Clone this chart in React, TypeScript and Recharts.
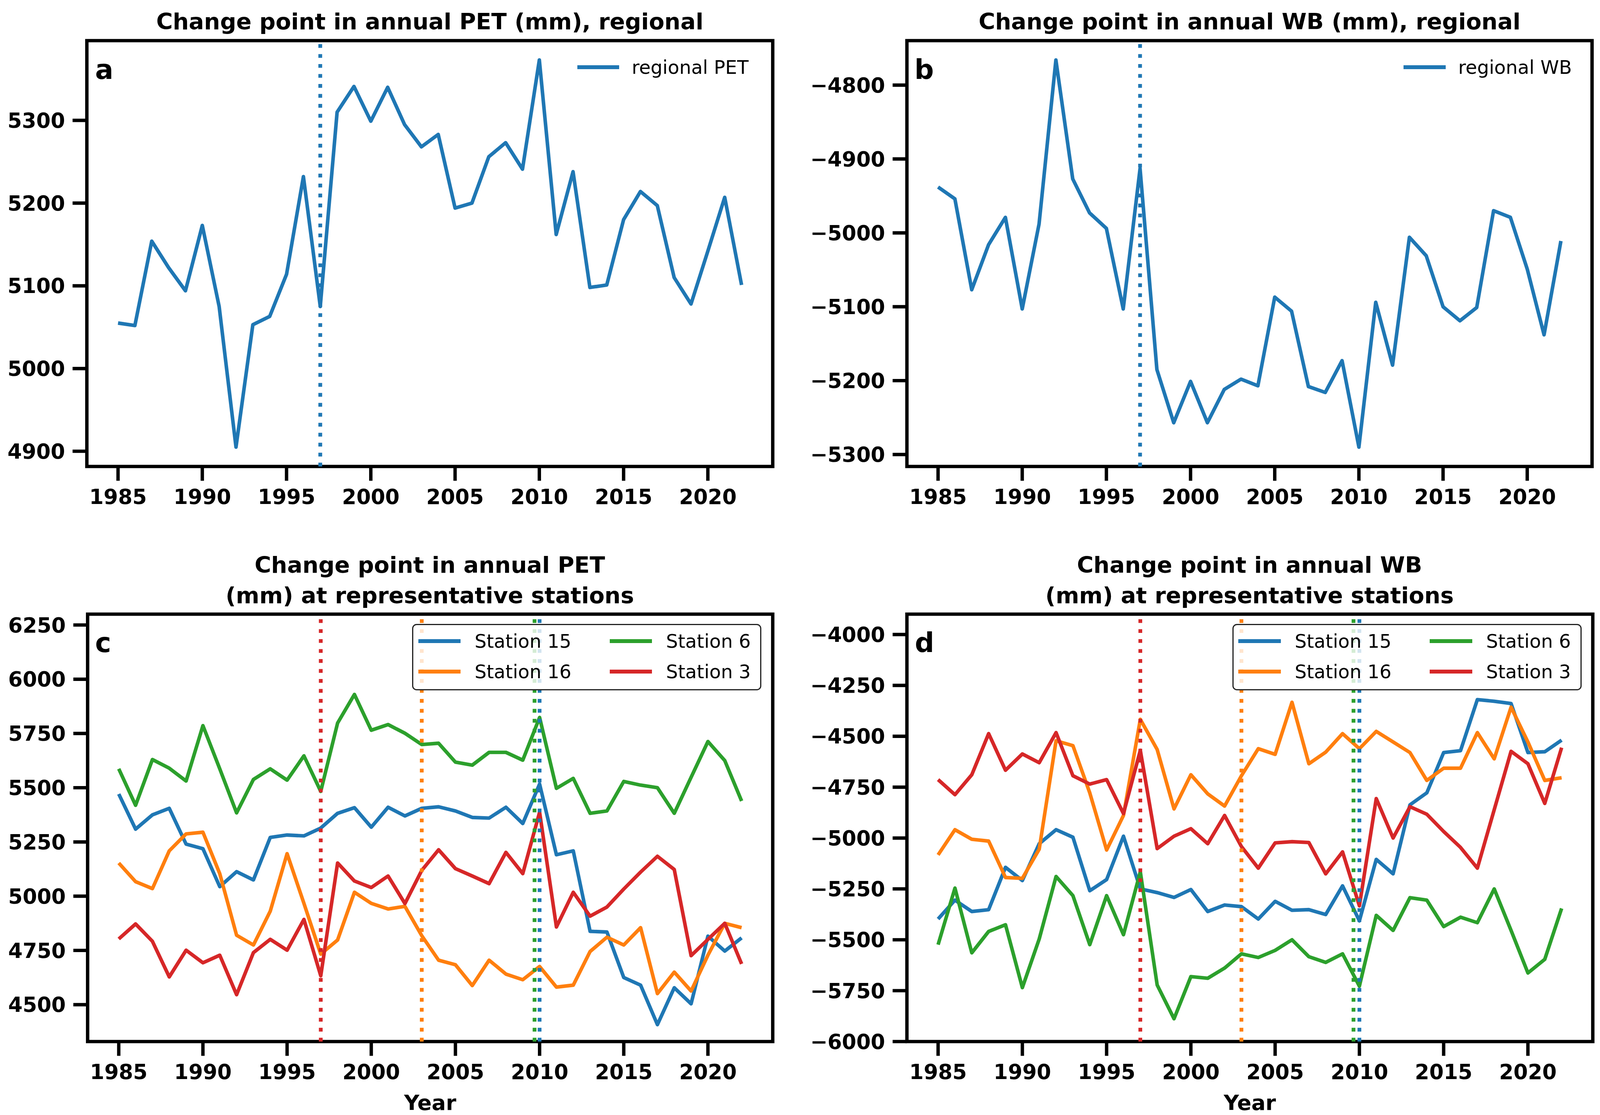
import React from "react";
import { LineChart, Line, XAxis, YAxis, ReferenceLine, ReferenceArea, Legend, Label } from "recharts";

const years = [
  1985, 1986, 1987, 1988, 1989, 1990, 1991, 1992, 1993, 1994,
  1995, 1996, 1997, 1998, 1999, 2000, 2001, 2002, 2003, 2004,
  2005, 2006, 2007, 2008, 2009, 2010, 2011, 2012, 2013, 2014,
  2015, 2016, 2017, 2018, 2019, 2020, 2021, 2022,
];
const xTicks = [1985, 1990, 1995, 2000, 2005, 2010, 2015, 2020];

// regional series
const petRegional = [
  5055, 5052, 5154, 5122, 5094, 5173, 5075, 4905, 5053, 5063,
  5114, 5232, 5075, 5310, 5341, 5299, 5340, 5295, 5268, 5283,
  5194, 5200, 5256, 5273, 5241, 5373, 5162, 5238, 5098, 5101,
  5180, 5214, 5197, 5110, 5078, 5142, 5207, 5101,
];
const wbRegional = [
  -4938, -4954, -5077, -5016, -4979, -5103, -4988, -4766, -4927, -4973,
  -4994, -5103, -4913, -5185, -5257, -5201, -5257, -5212, -5198, -5207,
  -5087, -5106, -5208, -5216, -5173, -5290, -5094, -5179, -5006, -5031,
  -5100, -5119, -5101, -4970, -4979, -5049, -5138, -5011,
];

// PET at stations
const petS15 = [
  5471, 5309, 5375, 5405, 5240, 5219, 5044, 5113, 5075, 5271,
  5282, 5278, 5314, 5382, 5408, 5318, 5410, 5370, 5405, 5412,
  5393, 5363, 5360, 5410, 5335, 5517, 5191, 5209, 4838, 4835,
  4625, 4590, 4408, 4578, 4504, 4816, 4747, 4808,
];
const petS16 = [
  5153, 5067, 5035, 5209, 5287, 5295, 5104, 4820, 4775, 4931,
  5196, 4967, 4733, 4798, 5018, 4967, 4941, 4953, 4818, 4705,
  4684, 4588, 4705, 4641, 4615, 4676, 4581, 4590, 4745, 4811,
  4775, 4855, 4551, 4650, 4563, 4728, 4875, 4855,
];
const petS6 = [
  5587, 5419, 5630, 5590, 5531, 5786, 5587, 5384, 5538, 5587,
  5535, 5647, 5483, 5798, 5930, 5765, 5791, 5751, 5699, 5705,
  5618, 5604, 5663, 5663, 5627, 5824, 5497, 5543, 5382, 5393,
  5529, 5512, 5500, 5382, 5548, 5713, 5625, 5439,
];
const petS3 = [
  4803, 4872, 4792, 4628, 4751, 4693, 4728, 4546, 4740, 4801,
  4751, 4893, 4633, 5153, 5070, 5040, 5093, 4966, 5119, 5214,
  5127, 5093, 5058, 5202, 5104, 5387, 4858, 5018, 4908, 4950,
  5033, 5111, 5184, 5123, 4726, 4801, 4875, 4688,
];

// WB at stations
const wbS15 = [
  -5398, -5305, -5361, -5352, -5144, -5209, -5028, -4959, -4996, -5259,
  -5204, -4991, -5250, -5268, -5292, -5253, -5361, -5329, -5337, -5398,
  -5311, -5355, -5352, -5376, -5235, -5407, -5105, -5176, -4837, -4778,
  -4580, -4571, -4320, -4328, -4339, -4580, -4576, -4519,
];
const wbS16 = [
  -5083, -4959, -5006, -5015, -5194, -5198, -5055, -4522, -4546, -4778,
  -5059, -4889, -4417, -4565, -4857, -4689, -4783, -4843, -4694, -4561,
  -4589, -4333, -4635, -4578, -4487, -4561, -4476, -4528, -4580, -4717,
  -4657, -4657, -4482, -4611, -4357, -4528, -4717, -4704,
];
const wbS6 = [
  -5524, -5246, -5564, -5459, -5426, -5735, -5496, -5189, -5283, -5524,
  -5283, -5475, -5166, -5722, -5888, -5681, -5689, -5639, -5569, -5587,
  -5552, -5500, -5583, -5611, -5569, -5728, -5380, -5454, -5293, -5305,
  -5435, -5389, -5416, -5250, -5454, -5663, -5596, -5346,
];
const wbS3 = [
  -4713, -4787, -4689, -4487, -4667, -4587, -4630, -4482, -4694, -4735,
  -4713, -4880, -4569, -5052, -4991, -4954, -5028, -4889, -5042, -5148,
  -5024, -5018, -5022, -5176, -5068, -5333, -4806, -5000, -4846, -4883,
  -4968, -5046, -5148, -4861, -4574, -4635, -4830, -4556,
];

const stationNames = ["Station 15", "Station 16", "Station 6", "Station 3"];
const stationColors = ["#1f77b4", "#ff7f0e", "#2ca02c", "#d62728"];
// change points (year) per series
const regionalChange = 1997;
const stationChangePET = [2010, 2003, 2009.7, 1997];
const stationChangeWB = [2010, 2003, 2009.65, 1997];

const petTicks = [4900, 5000, 5100, 5200, 5300];
const wbTicks = [-5300, -5200, -5100, -5000, -4900, -4800];
const petStTicks = [4500, 4750, 5000, 5250, 5500, 5750, 6000, 6250];
const wbStTicks = [-6000, -5750, -5500, -5250, -5000, -4750, -4500, -4250, -4000];

const regionalData = years.map((y, i) => ({ year: y, pet: petRegional[i], wb: wbRegional[i] }));
const petStationData = years.map((y, i) => ({ year: y, s15: petS15[i], s16: petS16[i], s6: petS6[i], s3: petS3[i] }));
const wbStationData = years.map((y, i) => ({ year: y, s15: wbS15[i], s16: wbS16[i], s6: wbS6[i], s3: wbS3[i] }));
const stationKeys = ["s15", "s16", "s6", "s3"];

const FONT = "'DejaVu Sans', sans-serif";
const X_DOMAIN: [number, number] = [1983.15, 2023.85];
const W0 = 4255;
const H0 = 2854;

const fmt = (v: number) => (v < 0 ? "\u2212" + Math.abs(v) : String(v));

export default function App() {
  // fit the 4255x2854 layout to whatever the viewport really is
  const vw = (typeof document !== "undefined" && document.documentElement.clientWidth) || W0;
  const vh = (typeof document !== "undefined" && document.documentElement.clientHeight) || H0;
  const kx = vw / W0;
  const ky = vh / H0;
  const kf = Math.min(kx, ky);
  const X = (v: number) => v * kx;
  const Y = (v: number) => v * ky;
  const F = (v: number) => v * kf;

  const LW = F(9.5);
  const tickStyle = { fontSize: F(55), fontWeight: "bold", fill: "#000", fontFamily: FONT };

  const RegionalLegend = (props: any) => {
    const items = props.payload || [];
    return (
      <div style={{ fontFamily: FONT }}>
        {items.map((it: any) => (
          <div key={it.value} style={{ display: "flex", alignItems: "center", height: F(60) }}>
            <span style={{ display: "inline-block", width: F(112), height: LW, background: it.color, marginRight: F(33) }} />
            <span style={{ fontSize: F(50), color: "#000", whiteSpace: "nowrap" }}>{it.value}</span>
          </div>
        ))}
      </div>
    );
  };

  const StationLegend = (props: any) => {
    const items = [...(props.payload || [])].sort(
      (a: any, b: any) => stationNames.indexOf(a.value) - stationNames.indexOf(b.value)
    );
    return (
      <div
        style={{
          fontFamily: FONT,
          display: "grid",
          gridTemplateRows: `${Y(78)}px ${Y(78)}px`,
          gridTemplateColumns: `${X(509)}px ${X(390)}px`,
          gridAutoFlow: "column",
          width: X(929),
          height: Y(170),
          boxSizing: "border-box",
          border: `${F(4)}px solid #222`,
          borderRadius: F(12),
          background: "rgba(255,255,255,0.8)",
          padding: `${Y(2)}px 0 0 ${X(13)}px`,
        }}
      >
        {items.map((it: any) => (
          <div key={it.value} style={{ display: "flex", alignItems: "center" }}>
            <span style={{ display: "inline-block", width: X(113), height: LW, background: it.color, marginRight: X(37) }} />
            <span style={{ fontSize: F(50), color: "#000", whiteSpace: "nowrap" }}>{it.value}</span>
          </div>
        ))}
      </div>
    );
  };

  // panel geometry in the 4255x2854 frame
  const panel = (box: number[], chart: number[]) => {
    const [bl, br, bt, bb] = box;
    const [cl, cr, ct, cb] = chart;
    return {
      left: X(cl),
      top: Y(ct),
      width: X(cr) - X(cl),
      height: Y(cb) - Y(ct),
      margin: { top: Y(bt) - Y(ct), right: X(cr) - X(br), bottom: 0, left: 0 },
      yw: X(bl) - X(cl),
      xh: Y(cb) - Y(bb),
    };
  };

  const pa = panel([231, 2055, 104, 1194], [0, 2130, 0, 1330]);
  const pb = panel([2412, 4234, 104, 1194], [2110, 4255, 0, 1330]);
  const pc = panel([233, 2055, 1572, 2666], [0, 2130, 1380, 2854]);
  const pd = panel([2412, 4236, 1572, 2666], [2110, 4255, 1380, 2854]);

  const petDom: [number, number] = [4881.6, 5396.4];
  const wbDom: [number, number] = [-5316.2, -4739.8];
  const petStDom: [number, number] = [4330, 6300];
  const wbStDom: [number, number] = [-6000, -3900];

  const axisX = (height: number, withLabel: boolean) => (
    <XAxis
      dataKey="year"
      type="number"
      domain={X_DOMAIN}
      allowDataOverflow
      ticks={xTicks}
      height={height}
      axisLine={false}
      tickSize={F(38)}
      tickMargin={F(23)}
      tickLine={{ stroke: "#000", strokeWidth: F(9) }}
      tick={tickStyle}
      interval={0}
    >
      {withLabel ? (
        <Label value="Year" position="insideBottom" offset={F(14)} style={{ fontSize: F(56), fontWeight: "bold", fill: "#000", fontFamily: FONT }} />
      ) : null}
    </XAxis>
  );

  const axisY = (width: number, domain: [number, number], ticks: number[]) => (
    <YAxis
      type="number"
      domain={domain}
      allowDataOverflow
      ticks={ticks}
      width={width}
      axisLine={false}
      tickSize={F(38)}
      tickMargin={F(20)}
      tickLine={{ stroke: "#000", strokeWidth: F(9) }}
      tick={tickStyle}
      tickFormatter={fmt}
      interval={0}
    />
  );

  const frame = (dom: [number, number]) => (
    <ReferenceArea x1={X_DOMAIN[0]} x2={X_DOMAIN[1]} y1={dom[0]} y2={dom[1]} fill="none" stroke="#000" strokeWidth={F(9)} ifOverflow="visible" />
  );

  const changeLine = (x: number, color: string, key: string) => (
    <ReferenceLine key={key} x={x} stroke={color} strokeWidth={F(10)} strokeDasharray={`${F(10)} ${F(16.5)}`} />
  );

  const titleStyle = (cx: number, top: number): React.CSSProperties => ({
    position: "absolute",
    left: X(cx) - X(1000),
    top: Y(top),
    width: X(2000),
    textAlign: "center",
    fontFamily: FONT,
    fontWeight: "bold",
    fontSize: F(60),
    lineHeight: `${Y(78)}px`,
    color: "#000",
    whiteSpace: "nowrap",
  });

  const letterStyle = (left: number, baseline: number): React.CSSProperties => ({
    position: "absolute",
    left: X(left),
    top: Y(baseline) - F(72) * 0.846,
    fontFamily: FONT,
    fontWeight: "bold",
    fontSize: F(72),
    lineHeight: `${F(72)}px`,
    color: "#000",
  });

  const box = (p: any): React.CSSProperties => ({ position: "absolute", left: p.left, top: p.top });

  return (
    <div style={{ position: "absolute", left: 0, top: 0, width: vw, height: vh, background: "#fff", overflow: "hidden" }}>
      {/* panel a */}
      <div style={box(pa)}>
        <LineChart width={pa.width} height={pa.height} data={regionalData} margin={pa.margin}>
          {axisX(pa.xh, false)}
          {axisY(pa.yw, petDom, petTicks)}
          <Line type="linear" dataKey="pet" name="regional PET" stroke={stationColors[0]} strokeWidth={LW} strokeLinejoin="round" dot={false} isAnimationActive={false} />
          {changeLine(regionalChange, stationColors[0], "cpa")}
          {frame(petDom)}
          <Legend layout="horizontal" verticalAlign="middle" align="center" content={<RegionalLegend />}
            wrapperStyle={{ left: X(1535) - pa.left, top: Y(172) - F(30) - pa.top, width: X(500), height: F(60) }} />
        </LineChart>
      </div>

      {/* panel b */}
      <div style={box(pb)}>
        <LineChart width={pb.width} height={pb.height} data={regionalData} margin={pb.margin}>
          {axisX(pb.xh, false)}
          {axisY(pb.yw, wbDom, wbTicks)}
          <Line type="linear" dataKey="wb" name="regional WB" stroke={stationColors[0]} strokeWidth={LW} strokeLinejoin="round" dot={false} isAnimationActive={false} />
          {changeLine(regionalChange, stationColors[0], "cpb")}
          {frame(wbDom)}
          <Legend layout="horizontal" verticalAlign="middle" align="center" content={<RegionalLegend />}
            wrapperStyle={{ left: X(3733) - pb.left, top: Y(172) - F(30) - pb.top, width: X(480), height: F(60) }} />
        </LineChart>
      </div>

      {/* panel c */}
      <div style={box(pc)}>
        <LineChart width={pc.width} height={pc.height} data={petStationData} margin={pc.margin}>
          {axisX(pc.xh, true)}
          {axisY(pc.yw, petStDom, petStTicks)}
          {stationKeys.map((k, i) => (
            <Line key={k} type="linear" dataKey={k} name={stationNames[i]} stroke={stationColors[i]} strokeWidth={LW} strokeLinejoin="round" dot={false} isAnimationActive={false} />
          ))}
          {stationChangePET.map((x, i) => changeLine(x, stationColors[i], "cpc" + i))}
          {frame(petStDom)}
          <Legend layout="horizontal" verticalAlign="middle" align="center" content={<StationLegend />}
            wrapperStyle={{ left: X(1096) - pc.left, top: Y(1597) - pc.top, width: X(929), height: Y(170) }} />
        </LineChart>
      </div>

      {/* panel d */}
      <div style={box(pd)}>
        <LineChart width={pd.width} height={pd.height} data={wbStationData} margin={pd.margin}>
          {axisX(pd.xh, true)}
          {axisY(pd.yw, wbStDom, wbStTicks)}
          {stationKeys.map((k, i) => (
            <Line key={k} type="linear" dataKey={k} name={stationNames[i]} stroke={stationColors[i]} strokeWidth={LW} strokeLinejoin="round" dot={false} isAnimationActive={false} />
          ))}
          {stationChangeWB.map((x, i) => changeLine(x, stationColors[i], "cpd" + i))}
          {frame(wbStDom)}
          <Legend layout="horizontal" verticalAlign="middle" align="center" content={<StationLegend />}
            wrapperStyle={{ left: X(3277) - pd.left, top: Y(1597) - pd.top, width: X(929), height: Y(170) }} />
        </LineChart>
      </div>

      <div style={titleStyle(1143, 16)}>Change point in annual PET (mm), regional</div>
      <div style={titleStyle(3323, 16)}>Change point in annual WB (mm), regional</div>
      <div style={titleStyle(1143, 1407)}>
        Change point in annual PET
        <br />
        (mm) at representative stations
      </div>
      <div style={titleStyle(3323, 1407)}>
        Change point in annual WB
        <br />
        (mm) at representative stations
      </div>

      <div style={letterStyle(253, 203)}>a</div>
      <div style={letterStyle(2432, 203)}>b</div>
      <div style={letterStyle(253, 1670)}>c</div>
      <div style={letterStyle(2433, 1670)}>d</div>
    </div>
  );
}
